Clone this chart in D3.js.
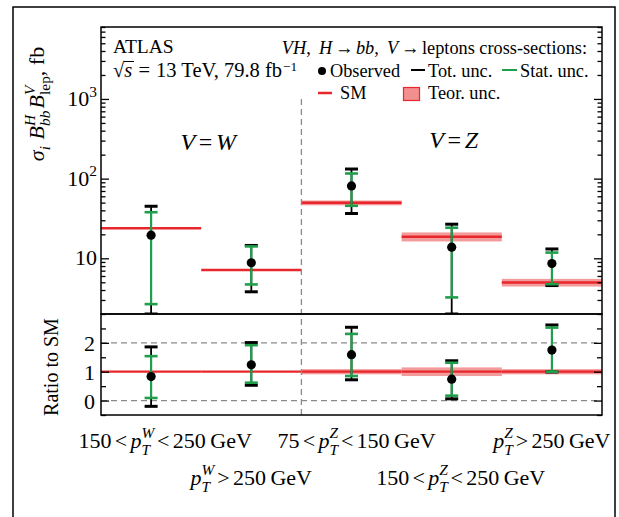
<!DOCTYPE html>
<html><head><meta charset="utf-8">
<script src="https://cdn.jsdelivr.net/npm/d3@7"></script>
<style>body{margin:0;background:#fff}svg{display:block}text{white-space:pre}</style>
</head><body>
<svg id="c" width="619" height="517"></svg>
<script>
// ---------------- data ----------------
const bins = ["W1", "W2", "Z1", "Z2", "Z3"];
const binBoson = ["W", "W", "Z", "Z", "Z"];
const binLo = [150, 250, 75, 150, 250];
const binHi = [250, null, 150, 250, null];
const labelRow = [0, 1, 0, 1, 0];

const observed = [19.5, 8.8, 81, 13.8, 8.6];
const totHi = [45, 14.5, 132, 26.8, 13.1];
const totLo = [1.9, 3.8, 36.5, 1.9, 4.55];
const statHi = [37.9, 14.1, 116, 24.2, 11.8];
const statLo = [2.66, 4.7, 45.6, 3.23, 4.73];
const smValue = [23.9, 7.14, 49.7, 18.7, 4.97];
const smRelUnc = [0, 0, 0.07, 0.13, 0.11];

const ratioObs = [0.83, 1.24, 1.59, 0.74, 1.75];
const ratioTotHi = [1.86, 2.01, 2.54, 1.38, 2.62];
const ratioTotLo = [-0.2, 0.53, 0.72, 0.06, 0.99];
const ratioStatHi = [1.54, 1.92, 2.31, 1.31, 2.53];
const ratioStatLo = [0.09, 0.62, 0.85, 0.17, 1.0];
const ratioSmUnc = [0, 0, 0.09, 0.15, 0.09];

const yMajorTicks = [10, 100, 1000];
const yMajorExp = [1, 2, 3];
const rMajorTicks = [0, 1, 2];
const rMinorTicks = [-0.5, 0.5, 1.5, 2.5];
const dashedRatio = [0, 2];
const dividerTop = 1000;

// ---------------- style ----------------
const FONT = "Liberation Serif, Times New Roman, Times, DejaVu Serif, serif";
const GREEN = "#1f9e4c", RED = "#e8262b", BAND = "#f29090", GREY = "#8a8a8a";
const labelShift = [14, 0, 5, 9, 0];

const svg = d3.select("#c");
const L = 101, R = 602, T = 27, B1 = 314, B2 = 415;

const x = d3.scaleBand().domain(bins).range([L, R]).padding(0);
const y = d3.scaleLog().domain([2, 8000]).range([B1, T]).clamp(true);
const yr = d3.scaleLinear().domain([-0.5, 3]).range([B2, B1]);

// math text helper
function addPiece(g, cx, p, size) {
  const fs = size * (p.s || 1);
  const t = g.append("text")
    .attr("x", cx + (p.dx || 0) * size)
    .attr("y", (p.dy || 0) * size)
    .style("font-family", FONT)
    .attr("font-size", fs)
    .attr("font-style", p.i ? "italic" : "normal")
    .attr("fill", "#000")
    .text(p.t);
  return t.node().getComputedTextLength() + ((p.dx || 0) + (p.after || 0)) * size;
}
function mathText(parent, x0, y0, pieces, size, anchor, rotate) {
  const outer = parent.append("g").attr("transform", `translate(${x0},${y0})` + (rotate ? ` rotate(${rotate})` : ""));
  const g = outer.append("g");
  let cx = 0;
  for (const p of pieces) {
    if (p.stack) {
      let w = 0;
      for (const q of p.stack) w = Math.max(w, addPiece(g, cx, q, size));
      cx += w + (p.after || 0) * size;
    } else cx += addPiece(g, cx, p, size);
  }
  if (anchor === "middle") g.attr("transform", `translate(${-cx / 2},0)`);
  if (anchor === "end") g.attr("transform", `translate(${-cx},0)`);
  return outer;
}

// outer frame
svg.append("rect").attr("x", 13).attr("y", 7).attr("width", 602).attr("height", 530)
  .attr("fill", "none").attr("stroke", "#000").attr("stroke-width", 1.5);

// clip for upper panel
svg.append("clipPath").attr("id", "clipU").append("rect").attr("x", L).attr("y", T).attr("width", R - L).attr("height", B1 - T);
const gU = svg.append("g").attr("clip-path", "url(#clipU)");
const gR = svg.append("g");

// ratio dashed lines
gR.selectAll("line.dash").data(dashedRatio).join("line")
  .attr("x1", L).attr("x2", R).attr("y1", d => yr(d)).attr("y2", d => yr(d))
  .attr("stroke", GREY).attr("stroke-width", 1.3).attr("stroke-dasharray", "6,4");

// divider
svg.append("line").attr("x1", x("Z1")).attr("x2", x("Z1"))
  .attr("y1", y(dividerTop)).attr("y2", yr(-0.5))
  .attr("stroke", GREY).attr("stroke-width", 1.3).attr("stroke-dasharray", "6,4");

// SM bands & lines (upper)
bins.forEach((b, i) => {
  if (smRelUnc[i] > 0) {
    gU.append("rect").attr("x", x(b)).attr("width", x.bandwidth())
      .attr("y", y(smValue[i] * (1 + smRelUnc[i])))
      .attr("height", y(smValue[i] * (1 - smRelUnc[i])) - y(smValue[i] * (1 + smRelUnc[i])))
      .attr("fill", BAND).attr("opacity", 0.9);
  }
  gU.append("line").attr("x1", x(b)).attr("x2", x(b) + x.bandwidth())
    .attr("y1", y(smValue[i])).attr("y2", y(smValue[i]))
    .attr("stroke", RED).attr("stroke-width", 2.5);
});
// SM bands & lines (ratio)
bins.forEach((b, i) => {
  if (ratioSmUnc[i] > 0) {
    gR.append("rect").attr("x", x(b)).attr("width", x.bandwidth())
      .attr("y", yr(1 + ratioSmUnc[i])).attr("height", yr(1 - ratioSmUnc[i]) - yr(1 + ratioSmUnc[i]))
      .attr("fill", BAND).attr("opacity", 0.9);
  }
  gR.append("line").attr("x1", x(b)).attr("x2", x(b) + x.bandwidth())
    .attr("y1", yr(1)).attr("y2", yr(1)).attr("stroke", RED).attr("stroke-width", 2.3);
});

function errorBars(g, sc, obs, tLo, tHi, sLo, sHi) {
  const cw = 6.5;
  bins.forEach((b, i) => {
    const cx = x(b) + x.bandwidth() / 2;
    g.append("line").attr("x1", cx).attr("x2", cx).attr("y1", sc(tLo[i])).attr("y2", sc(tHi[i]))
      .attr("stroke", "#000").attr("stroke-width", 1.8);
    [tLo[i], tHi[i]].forEach(v => g.append("line").attr("x1", cx - cw).attr("x2", cx + cw)
      .attr("y1", sc(v)).attr("y2", sc(v)).attr("stroke", "#000").attr("stroke-width", 3));
    g.append("line").attr("x1", cx).attr("x2", cx).attr("y1", sc(sLo[i])).attr("y2", sc(sHi[i]))
      .attr("stroke", GREEN).attr("stroke-width", 2.2);
    [sLo[i], sHi[i]].forEach(v => g.append("line").attr("x1", cx - cw).attr("x2", cx + cw)
      .attr("y1", sc(v)).attr("y2", sc(v)).attr("stroke", GREEN).attr("stroke-width", 2.6));
    g.append("circle").attr("cx", cx).attr("cy", sc(obs[i])).attr("r", 4.6).attr("fill", "#000");
  });
}
errorBars(gU, y, observed, totLo, totHi, statLo, statHi);
errorBars(gR, yr, ratioObs, ratioTotLo, ratioTotHi, ratioStatLo, ratioStatHi);

// axes ticks (inward)
const minorLog = [];
for (let e = 0; e <= 3; e++) for (let m = 2; m <= 9; m++) {
  const v = m * Math.pow(10, e);
  if (v >= 2 && v <= 8000 && !yMajorTicks.includes(v)) minorLog.push(v);
}
function ticks(axisFn, scale, vals, len, xpos) {
  const g = svg.append("g").attr("transform", `translate(${xpos},0)`)
    .call(axisFn(scale).tickValues(vals).tickSize(len).tickFormat(""));
  g.select(".domain").remove();
  g.selectAll(".tick line").attr("stroke", "#000").attr("stroke-width", 1.3);
}
ticks(d3.axisLeft, y, yMajorTicks, -8, L);
ticks(d3.axisLeft, y, minorLog, -4.5, L);
ticks(d3.axisRight, y, yMajorTicks, -8, R);
ticks(d3.axisRight, y, minorLog, -4.5, R);
ticks(d3.axisLeft, yr, rMajorTicks, -8, L);
ticks(d3.axisLeft, yr, rMinorTicks, -5, L);
ticks(d3.axisRight, yr, rMajorTicks, -8, R);
ticks(d3.axisRight, yr, rMinorTicks, -5, R);

// panel frames
svg.append("rect").attr("x", L).attr("y", T).attr("width", R - L).attr("height", B1 - T)
  .attr("fill", "none").attr("stroke", "#000").attr("stroke-width", 1.5);
svg.append("rect").attr("x", L).attr("y", B1).attr("width", R - L).attr("height", B2 - B1)
  .attr("fill", "none").attr("stroke", "#000").attr("stroke-width", 1.5);

// tick labels
const TS = 22;
yMajorTicks.forEach((v, i) => {
  const pieces = yMajorExp[i] === 1 ? [{ t: "10" }] : [{ t: "10" }, { t: String(yMajorExp[i]), s: 0.7, dy: -0.42 }];
  mathText(svg, 97, y(v) + 7, pieces, TS, "end");
});
rMajorTicks.forEach(v => mathText(svg, 95, yr(v) + 8, [{ t: String(v) }], TS, "end"));

// y titles
mathText(svg, 44, 104, [
  { t: "σ", i: 1 }, { t: "i", i: 1, s: 0.7, dy: 0.25, after: 0.3 },
  { t: "B", i: 1 }, { stack: [{ t: "H", i: 1, s: 0.7, dy: -0.42 }, { t: "bb", i: 1, s: 0.7, dy: 0.28 }], after: 0.1 },
  { t: "B", i: 1 }, { stack: [{ t: "V", i: 1, s: 0.7, dy: -0.42 }, { t: "lep", s: 0.7, dy: 0.28 }] },
  { t: ", fb" }
], 22, "middle", -90);
mathText(svg, 58, 367, [{ t: "Ratio to SM" }], 20, "middle", -90);

// bottom bin labels
bins.forEach((b, i) => {
  const V = binBoson[i];
  const pt = [{ t: "p", i: 1 }, { stack: [{ t: V, i: 1, s: 0.7, dy: -0.45 }, { t: "T", i: 1, s: 0.7, dy: 0.3 }], after: 0.05 }];
  let pieces;
  if (binHi[i] !== null) {
    pieces = [{ t: String(binLo[i]) }, { t: "<", dx: 0.15, after: 0.15 }, ...pt,
      { t: "<", dx: 0.08, after: 0.15 }, { t: String(binHi[i]) }, { t: "GeV", dx: 0.2 }];
  } else {
    pieces = [...pt, { t: ">", dx: 0.08, after: 0.15 }, { t: String(binLo[i]) }, { t: "GeV", dx: 0.2 }];
  }
  mathText(svg, x(b) + x.bandwidth() / 2 + labelShift[i], labelRow[i] ? 485 : 448, pieces, 22, "middle");
});

// region labels
mathText(svg, (x("W1") + x("W2") + x.bandwidth()) / 2 + 7, 150,
  [{ t: "V", i: 1 }, { t: "=", dx: 0.15, after: 0.15 }, { t: "W", i: 1 }], 24, "middle");
mathText(svg, (x("Z1") + x("Z3") + x.bandwidth()) / 2 + 2, 148,
  [{ t: "V", i: 1 }, { t: "=", dx: 0.15, after: 0.15 }, { t: "Z", i: 1 }], 24, "middle");

// ATLAS
mathText(svg, 113, 53, [{ t: "ATLAS" }], 19.5, "start");
mathText(svg, 113, 77, [{ t: "√" }, { t: "s", i: 1, after: 0.3 }, { t: "=", after: 0.3 }, { t: "13 TeV, 79.8 fb" }, { t: "−1", s: 0.65, dy: -0.3, dx: 0.05 }], 20.5, "start");
svg.append("line").attr("x1", 124).attr("x2", 134).attr("y1", 61.5).attr("y2", 61.5).attr("stroke", "#000").attr("stroke-width", 1);

// legend
const LS = 18.3;
mathText(svg, 587, 54, [
  { t: "VH", i: 1 }, { t: ",", after: 0.45 }, { t: "H", i: 1 }, { t: "→", dx: 0.15, after: 0.15 }, { t: "bb", i: 1 },
  { t: ",", after: 0.45 }, { t: "V", i: 1 }, { t: "→", dx: 0.15, after: 0.15 }, { t: "leptons cross-sections:" }
], LS, "end");
svg.append("circle").attr("cx", 322).attr("cy", 71).attr("r", 4).attr("fill", "#000");
mathText(svg, 330, 77, [{ t: "Observed" }], LS, "start");
svg.append("line").attr("x1", 411).attr("x2", 425).attr("y1", 70).attr("y2", 70).attr("stroke", "#000").attr("stroke-width", 2);
mathText(svg, 428, 77, [{ t: "Tot. unc." }], LS, "start");
svg.append("line").attr("x1", 502).attr("x2", 517).attr("y1", 70).attr("y2", 70).attr("stroke", GREEN).attr("stroke-width", 2);
mathText(svg, 520, 77, [{ t: "Stat. unc." }], LS, "start");
svg.append("line").attr("x1", 318).attr("x2", 332).attr("y1", 93).attr("y2", 93).attr("stroke", RED).attr("stroke-width", 2.5);
mathText(svg, 340, 99, [{ t: "SM" }], LS, "start");
svg.append("rect").attr("x", 403.5).attr("y", 87.5).attr("width", 16).attr("height", 13)
  .attr("fill", BAND).attr("stroke", RED).attr("stroke-width", 1.2);
mathText(svg, 428, 99, [{ t: "Teor. unc." }], LS, "start");
</script>
</body></html>
